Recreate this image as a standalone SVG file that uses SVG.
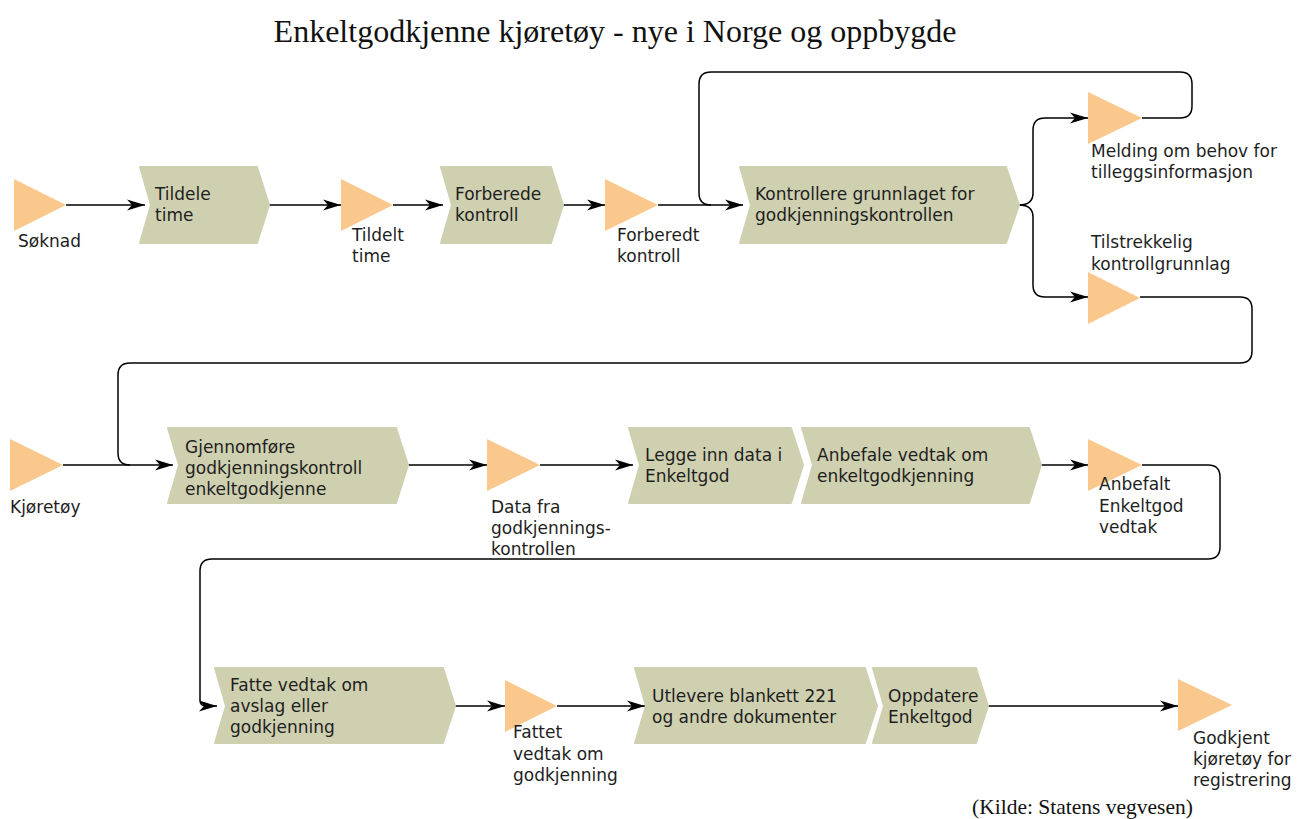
<svg xmlns="http://www.w3.org/2000/svg" width="1298" height="819" viewBox="0 0 1298 819">
  <style>
    .title { font-family: "Liberation Serif", "Times New Roman", serif; font-size: 32px; fill: #111; }
    .source { font-family: "Liberation Serif", "Times New Roman", serif; font-size: 21.5px; fill: #111; }
    .lbl { font-family: "DejaVu Sans", Verdana, sans-serif; font-size: 17px; fill: #1e1e1e; }
    .func { fill: #cfd0b0; stroke: #cfd0b0; stroke-width: 2; stroke-linejoin: round; }
    .event { fill: #fac88c; }
    .conn { fill: none; stroke: #000; stroke-width: 1.5; }
    .arr { marker-end: url(#arrow); }
  </style>
  <defs>
    <marker id="arrow" markerWidth="18" markerHeight="12" refX="18" refY="6" orient="auto" markerUnits="userSpaceOnUse">
      <path d="M0,0.5 L18,6 L0,11.5 L5,6 Z" fill="#000"/>
    </marker>
  </defs>

  <rect width="1298" height="819" fill="#fff"/>

  <text class="title" x="615" y="42" text-anchor="middle">Enkeltgodkjenne kjøretøy - nye i Norge og oppbygde</text>

  <!-- connectors -->
  <g id="connectors">
    <path class="conn arr" d="M66,205 H145"/>
    <path class="conn arr" d="M269,205 H341"/>
    <path class="conn arr" d="M393,205 H443"/>
    <path class="conn arr" d="M563,205 H605"/>
    <path class="conn arr" d="M658,205 H743"/>
    <!-- return path from "Melding om behov" back to the control step -->
    <path class="conn" d="M1142,118 H1180 Q1192,118 1192,106 V84 Q1192,72 1180,72 H711 Q699,72 699,84 V193 Q699,205 711,205"/>
    <!-- split after the control step -->
    <path class="conn arr" d="M1019,205 Q1033,205 1033,193 V130 Q1033,118 1045,118 H1088"/>
    <path class="conn arr" d="M1019,205 Q1033,205 1033,217 V285 Q1033,297 1045,297 H1088"/>
    <!-- row 1 to row 2 -->
    <path class="conn" d="M1140,297 H1240 Q1252,297 1252,309 V351 Q1252,363 1240,363 H130 Q118,363 118,375 V453 Q118,465 130,465"/>
    <path class="conn arr" d="M63,465 H173"/>
    <path class="conn arr" d="M408,465 H487"/>
    <path class="conn arr" d="M540,465 H633"/>
    <path class="conn arr" d="M1041,465 H1088"/>
    <!-- row 2 to row 3 -->
    <path class="conn arr" d="M1142,465 H1208 Q1220,465 1220,477 V547 Q1220,559 1208,559 H212 Q200,559 200,571 V700 Q200,706 206,706 H217"/>
    <path class="conn arr" d="M455,706 H505"/>
    <path class="conn arr" d="M557,706 H645"/>
    <path class="conn arr" d="M988,706 H1178"/>
  </g>

  <!-- row 1 -->
  <g id="n-soknad">
    <polygon class="event" points="14,179 14,231 66,205"/>
    <text class="lbl" x="18" y="247">Søknad</text>
  </g>
  <g id="n-tildele-time">
    <path class="func" d="M140,167 H257 L269,205 L257,243 H140 L151,205 Z"/>
    <text class="lbl" x="155" y="200">Tildele</text>
    <text class="lbl" x="155" y="221">time</text>
  </g>
  <g id="n-tildelt-time">
    <polygon class="event" points="341,179 341,231 393,205"/>
    <text class="lbl" x="352" y="241">Tildelt</text>
    <text class="lbl" x="352" y="262">time</text>
  </g>
  <g id="n-forberede-kontroll">
    <path class="func" d="M441,167 H551 L563,205 L551,243 H441 L452,205 Z"/>
    <text class="lbl" x="455" y="200">Forberede</text>
    <text class="lbl" x="455" y="221">kontroll</text>
  </g>
  <g id="n-forberedt-kontroll">
    <polygon class="event" points="605,179 605,231 658,205"/>
    <text class="lbl" x="617" y="241">Forberedt</text>
    <text class="lbl" x="617" y="262">kontroll</text>
  </g>
  <g id="n-kontrollere-grunnlaget">
    <path class="func" d="M740,167 H1006 L1019,205 L1006,243 H740 L751,205 Z"/>
    <text class="lbl" x="755" y="200">Kontrollere grunnlaget for</text>
    <text class="lbl" x="755" y="221">godkjenningskontrollen</text>
  </g>
  <g id="n-melding-behov">
    <polygon class="event" points="1088,92 1088,144 1142,118"/>
    <text class="lbl" x="1091" y="157">Melding om behov for</text>
    <text class="lbl" x="1091" y="178">tilleggsinformasjon</text>
  </g>
  <g id="n-tilstrekkelig">
    <polygon class="event" points="1088,272 1088,324 1140,298"/>
    <text class="lbl" x="1091" y="248">Tilstrekkelig</text>
    <text class="lbl" x="1091" y="270">kontrollgrunnlag</text>
  </g>

  <!-- row 2 -->
  <g id="n-kjoretoy">
    <polygon class="event" points="10,439 10,491 63,465"/>
    <text class="lbl" x="10" y="513">Kjøretøy</text>
  </g>
  <g id="n-gjennomfore">
    <path class="func" d="M168,428 H396 L408,465 L396,503 H168 L179,465 Z"/>
    <text class="lbl" x="185" y="453">Gjennomføre</text>
    <text class="lbl" x="185" y="474">godkjenningskontroll</text>
    <text class="lbl" x="185" y="495">enkeltgodkjenne</text>
  </g>
  <g id="n-data-fra">
    <polygon class="event" points="487,439 487,491 540,465"/>
    <text class="lbl" x="491" y="513">Data fra</text>
    <text class="lbl" x="491" y="534">godkjennings-</text>
    <text class="lbl" x="491" y="555">kontrollen</text>
  </g>
  <g id="n-legge-inn-data">
    <path class="func" d="M629,428 H791 L803,465 L791,503 H629 L640,465 Z"/>
    <text class="lbl" x="645" y="461">Legge inn data i</text>
    <text class="lbl" x="645" y="482">Enkeltgod</text>
  </g>
  <g id="n-anbefale-vedtak">
    <path class="func" d="M802,428 H1029 L1041,465 L1029,503 H802 L813,465 Z"/>
    <text class="lbl" x="817" y="461">Anbefale vedtak om</text>
    <text class="lbl" x="817" y="482">enkeltgodkjenning</text>
  </g>
  <g id="n-anbefalt-vedtak">
    <polygon class="event" points="1088,439 1088,491 1142,465"/>
    <text class="lbl" x="1099" y="490">Anbefalt</text>
    <text class="lbl" x="1099" y="512">Enkeltgod</text>
    <text class="lbl" x="1099" y="533">vedtak</text>
  </g>

  <!-- row 3 -->
  <g id="n-fatte-vedtak">
    <path class="func" d="M215,668 H443 L455,706 L443,743 H215 L226,706 Z"/>
    <text class="lbl" x="230" y="691">Fatte vedtak om</text>
    <text class="lbl" x="230" y="712">avslag eller</text>
    <text class="lbl" x="230" y="733">godkjenning</text>
  </g>
  <g id="n-fattet-vedtak">
    <polygon class="event" points="505,680 505,732 557,706"/>
    <text class="lbl" x="513" y="738">Fattet</text>
    <text class="lbl" x="513" y="760">vedtak om</text>
    <text class="lbl" x="513" y="781">godkjenning</text>
  </g>
  <g id="n-utlevere">
    <path class="func" d="M635,668 H865 L877,706 L865,743 H635 L646,706 Z"/>
    <text class="lbl" x="652" y="702">Utlevere blankett 221</text>
    <text class="lbl" x="652" y="723">og andre dokumenter</text>
  </g>
  <g id="n-oppdatere">
    <path class="func" d="M873,668 H976 L988,706 L976,743 H873 L884,706 Z"/>
    <text class="lbl" x="888" y="702">Oppdatere</text>
    <text class="lbl" x="888" y="723">Enkeltgod</text>
  </g>
  <g id="n-godkjent">
    <polygon class="event" points="1178,679 1178,731 1232,705"/>
    <text class="lbl" x="1193" y="744">Godkjent</text>
    <text class="lbl" x="1193" y="765">kjøretøy for</text>
    <text class="lbl" x="1193" y="786">registrering</text>
  </g>

  <text class="source" x="972" y="814">(Kilde: Statens vegvesen)</text>
</svg>
